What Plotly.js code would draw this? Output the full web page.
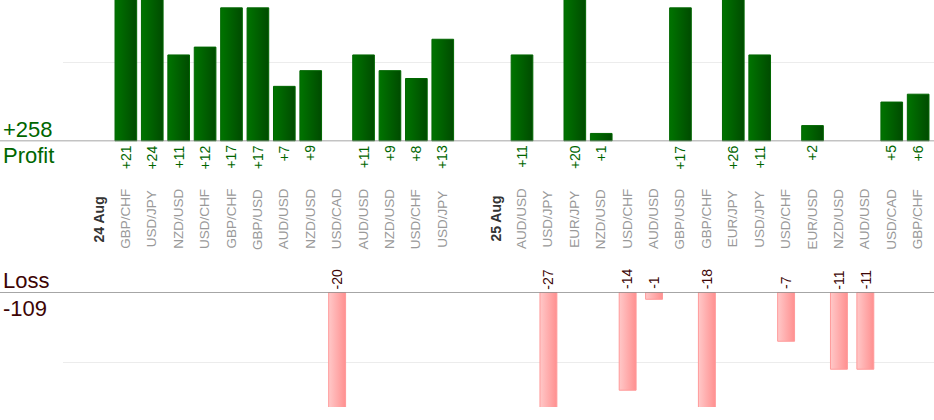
<!DOCTYPE html>
<html>
<head>
<meta charset="utf-8">
<script src="https://cdn.plot.ly/plotly-3.0.1.min.js"></script>
<style>
  html, body { margin: 0; padding: 0; background: #ffffff; }
  #chart { width: 934px; height: 420px; }
</style>
</head>
<body>
<div id="chart"></div>
<script>
// trades per day, in the order they appear
const days = ["24 Aug", "25 Aug"];
const pairs24 = ["GBP/CHF", "USD/JPY", "NZD/USD", "USD/CHF", "GBP/CHF", "GBP/USD", "AUD/USD",
  "NZD/USD", "USD/CAD", "AUD/USD", "NZD/USD", "USD/CHF", "USD/JPY"];
const pnl24 = [21, 24, 11, 12, 17, 17, 7, 9, -20, 11, 9, 8, 13];
const pairs25 = ["AUD/USD", "USD/JPY", "EUR/JPY", "NZD/USD", "USD/CHF", "AUD/USD", "GBP/USD",
  "GBP/CHF", "EUR/JPY", "USD/JPY", "USD/CHF", "EUR/USD", "NZD/USD", "AUD/USD", "USD/CAD", "GBP/CHF"];
const pnl25 = [11, -27, 20, 1, -14, -1, 17, -18, 26, 11, -7, 2, -11, -11, 5, 6];

const THEME = {
  profit: "#006600",
  loss: "#3d0505",
  pair: "#999999",
  day: "#333333",
  grid: "#ececec",
  axis: "#888888",
  fontFamily: "\"Liberation Sans\", Arial, sans-serif",
};

const W = 934, H = 420;
const MARGIN = { l: 63, r: 0, t: 0, b: 13 };
const plotH = H - MARGIN.t - MARGIN.b;
const plotW = W - MARGIN.l - MARGIN.r;
const pyFromTop = (px) => (plotH - px) / plotH; // paper y from pixel row
const leftEdge = -MARGIN.l / plotW;

// lay the days out on one axis: day label slot, its trades, a blank slot between days
const slots = [];
[[pairs24, pnl24], [pairs25, pnl25]].forEach(([pairs, pnl], d) => {
  if (d > 0) slots.push({ kind: "blank" });
  slots.push({ kind: "day", label: days[d] });
  pairs.forEach((p, i) => slots.push({ kind: "trade", label: p, value: pnl[i] }));
});

const xs = slots.map((_, i) => i);
const profitY = slots.map((s) => (s.kind === "trade" && s.value > 0 ? s.value : null));
const lossY = slots.map((s) => (s.kind === "trade" && s.value < 0 ? s.value : null));
const totalProfit = profitY.reduce((a, v) => a + (v || 0), 0);
const totalLoss = lossY.reduce((a, v) => a + (v || 0), 0);

const traces = [
  {
    type: "bar", x: xs, y: profitY, xaxis: "x", yaxis: "y", width: 0.82,
    marker: { color: "#006000", line: { color: "#006600", width: 1 } },
    hoverinfo: "skip",
  },
  {
    type: "bar", x: xs, y: lossY, xaxis: "x", yaxis: "y2", width: 0.64,
    marker: { color: "#ffadad", line: { color: "#ff9a9a", width: 1 } },
    hoverinfo: "skip",
  },
];

const annotations = [];
const labelY = pyFromTop(219);
slots.forEach((s, i) => {
  if (s.kind === "blank") return;
  const isDay = s.kind === "day";
  annotations.push({
    x: i, xref: "x", y: labelY, yref: "paper", text: isDay ? "<b>" + s.label + "</b>" : s.label,
    textangle: -90, showarrow: false, xanchor: "center", yanchor: "middle",
    font: { size: isDay ? 14 : 13.5, color: isDay ? THEME.day : THEME.pair },
  });
  if (!isDay && s.value > 0) {
    annotations.push({
      x: i, xref: "x", y: 0, yref: "y", text: "+" + s.value, textangle: -90, showarrow: false,
      xanchor: "center", yanchor: "top", yshift: -2, font: { size: 14, color: THEME.profit },
    });
  }
  if (!isDay && s.value < 0) {
    annotations.push({
      x: i, xref: "x", y: 0, yref: "y2", text: String(s.value), textangle: -90, showarrow: false,
      xanchor: "center", yanchor: "bottom", yshift: 1, font: { size: 14, color: THEME.loss },
    });
  }
});

const side = (text, yref, anchor, shift, color) => ({
  x: leftEdge, xref: "paper", xanchor: "left", xshift: 1, y: 0, yref, yanchor: anchor,
  yshift: shift, text, showarrow: false, font: { size: 22, color },
});
annotations.push(side("+" + totalProfit, "y", "bottom", -3, THEME.profit));
annotations.push(side("Profit", "y", "top", 0, THEME.profit));
annotations.push(side("Loss", "y2", "bottom", -3, THEME.loss));
annotations.push(side(String(totalLoss), "y2", "top", -2, THEME.loss));

const zeroLine = (yref) => ({
  type: "line", xref: "paper", x0: leftEdge, x1: 1, yref, y0: 0, y1: 0,
  line: { color: THEME.axis, width: 1.5 }, layer: "above",
});

const hiddenAxis = {
  showticklabels: false, ticks: "", zeroline: false, showline: false,
  gridcolor: THEME.grid, dtick: 10, fixedrange: true,
};

const layout = {
  width: W, height: H, margin: MARGIN,
  paper_bgcolor: "#ffffff", plot_bgcolor: "#ffffff",
  font: { family: THEME.fontFamily },
  showlegend: false,
  bargap: 0,
  xaxis: { range: [-1.38, 31.6], showgrid: false, showticklabels: false, ticks: "",
    zeroline: false, showline: false, fixedrange: true },
  yaxis: { ...hiddenAxis, range: [0, 18], domain: [pyFromTop(141.3), 1], anchor: "x" },
  yaxis2: { ...hiddenAxis, range: [-16.4, 0], domain: [0, pyFromTop(292.3)], anchor: "x" },
  annotations,
  shapes: [zeroLine("y"), zeroLine("y2")],
};

// horizontal gradients on the bars, as in the source chart
function paintGradients(gd) {
  const svg = gd.querySelector(".main-svg");
  const NS = "http://www.w3.org/2000/svg";
  let defs = svg.querySelector("defs");
  if (!defs) { defs = document.createElementNS(NS, "defs"); svg.prepend(defs); }
  const grads = [["gGreen", "#007400", "#004b00"], ["gPink", "#ffc8c8", "#ff9090"]];
  grads.forEach(([id, c0, c1]) => {
    const g = document.createElementNS(NS, "linearGradient");
    g.setAttribute("id", id);
    g.setAttribute("x1", "0"); g.setAttribute("x2", "1");
    g.setAttribute("y1", "0"); g.setAttribute("y2", "0");
    [[0, c0], [1, c1]].forEach(([off, col]) => {
      const st = document.createElementNS(NS, "stop");
      st.setAttribute("offset", off);
      st.setAttribute("stop-color", col);
      g.appendChild(st);
    });
    defs.appendChild(g);
  });
  gd.querySelectorAll(".barlayer .trace").forEach((tr, k) => {
    tr.querySelectorAll(".point path").forEach((p) => {
      p.style.fill = "url(#" + grads[k][0] + ")";
    });
  });
}

const gd = document.getElementById("chart");
Plotly.newPlot(gd, traces, layout, { staticPlot: true, displayModeBar: false })
  .then(() => paintGradients(gd));
</script>
</body>
</html>
